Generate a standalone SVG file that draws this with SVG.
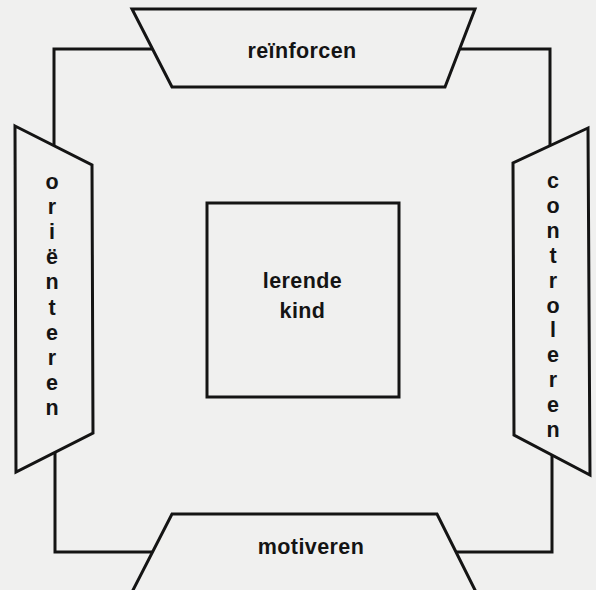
<svg xmlns="http://www.w3.org/2000/svg" width="596" height="590" viewBox="0 0 596 590">
  <style>
    .bg { fill: #f0f0ef; }
    .shape { fill: #f0f0ef; stroke: #141414; stroke-width: 3; stroke-linejoin: miter; }
    .conn { fill: none; stroke: #141414; stroke-width: 3; stroke-linejoin: miter; }
    .lbl { font-family: "Liberation Sans", Arial, Helvetica, sans-serif; font-weight: bold; font-size: 21.5px; fill: #141414; text-anchor: middle; letter-spacing: 0.4px; }
    .vlbl { font-family: "Liberation Sans", Arial, Helvetica, sans-serif; font-weight: bold; font-size: 21.5px; fill: #141414; text-anchor: middle; }
  </style>
  <rect class="bg" x="0" y="0" width="596" height="590"/>

  <g id="connectors">
    <path class="conn" d="M153,49 H54 V146"/>
    <path class="conn" d="M459,49 H550 V146"/>
    <path class="conn" d="M55,452 V552 H153"/>
    <path class="conn" d="M456,552 H552 V455"/>
  </g>

  <g id="node-reinforcen">
    <polygon class="shape" points="132,9 475,9 445,87 172,87"/>
    <text class="lbl" x="302" y="58">reïnforcen</text>
  </g>

  <g id="node-orienteren">
    <polygon class="shape" points="15,126 92,165 93,433 16,472"/>
    <text class="vlbl" x="52" y="189"><tspan x="52">o</tspan><tspan x="52" dy="25.1">r</tspan><tspan x="52" dy="25.1">i</tspan><tspan x="52" dy="25.1">ë</tspan><tspan x="52" dy="25.1">n</tspan><tspan x="52" dy="25.1">t</tspan><tspan x="52" dy="25.1">e</tspan><tspan x="52" dy="25.1">r</tspan><tspan x="52" dy="25.1">e</tspan><tspan x="52" dy="25.1">n</tspan></text>
  </g>

  <g id="node-controleren">
    <polygon class="shape" points="588,128 513,163 514,435 590,475"/>
    <text class="vlbl" x="553" y="188"><tspan x="553">c</tspan><tspan x="553" dy="24.9">o</tspan><tspan x="553" dy="24.9">n</tspan><tspan x="553" dy="24.9">t</tspan><tspan x="553" dy="24.9">r</tspan><tspan x="553" dy="24.9">o</tspan><tspan x="553" dy="24.9">l</tspan><tspan x="553" dy="24.9">e</tspan><tspan x="553" dy="24.9">r</tspan><tspan x="553" dy="24.9">e</tspan><tspan x="553" dy="24.9">n</tspan></text>
  </g>

  <g id="node-motiveren">
    <polygon class="shape" points="172,514 437,514 477,594 131,594"/>
    <text class="lbl" x="311" y="554">motiveren</text>
  </g>

  <g id="node-lerende-kind">
    <rect class="shape" x="207" y="203" width="192" height="194"/>
    <text class="lbl" x="302.5" y="288">lerende</text>
    <text class="lbl" x="302.5" y="318">kind</text>
  </g>
</svg>
